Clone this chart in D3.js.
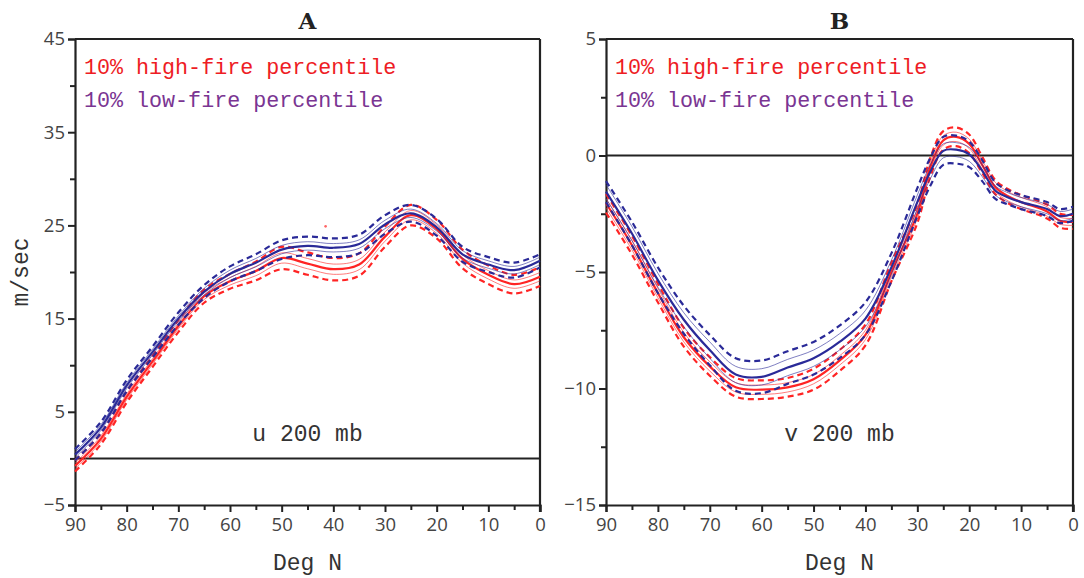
<!DOCTYPE html>
<html>
<head>
<meta charset="utf-8">
<script src="https://cdn.jsdelivr.net/npm/d3@7/dist/d3.min.js"></script>
<style>
  body { margin: 0; background: #fff; }
  .mono { font-family: "Liberation Mono", "Courier New", monospace; }
  .tick text { font-family: "Open Sans", sans-serif; font-size: 18.5px; fill: #444; }
  .axis path, .axis line { stroke: #222; }
</style>
</head>
<body>
<svg id="chart" width="1084" height="578"></svg>
<script>
// latitude ticks shared by both panels
const latMajor = [90, 80, 70, 60, 50, 40, 30, 20, 10, 0];
const latMinor = [85, 75, 65, 55, 45, 35, 25, 15, 5];

// panel A: u wind at 200 mb
const latsA = [90, 85, 80, 75, 70, 65, 60, 55, 50, 45, 40, 35, 30, 25, 20, 15, 10, 5, 0];
const uLow  = [0.4, 3.3, 7.8, 11.4, 15.0, 17.9, 19.8, 21.0, 22.4, 22.8, 22.6, 23.0, 25.1, 26.3, 24.8, 21.9, 20.8, 20.2, 21.2];
const uHigh = [-0.8, 2.1, 6.6, 10.4, 14.2, 17.4, 19.0, 20.1, 21.5, 20.9, 20.3, 20.8, 23.8, 26.1, 24.6, 21.4, 19.7, 18.7, 19.5];
const uLowInner  = [0.3, 0.3, 0.3, 0.3, 0.3, 0.35, 0.4, 0.45, 0.45, 0.45, 0.45, 0.45, 0.45, 0.45, 0.4, 0.4, 0.4, 0.4, 0.4];
const uLowOuter  = [0.6, 0.6, 0.6, 0.6, 0.65, 0.7, 0.8, 0.9, 1.0, 1.0, 1.0, 1.0, 1.0, 0.9, 0.9, 0.8, 0.8, 0.8, 0.7];
const uHighInner = [0.3, 0.3, 0.3, 0.3, 0.3, 0.35, 0.4, 0.5, 0.55, 0.55, 0.55, 0.55, 0.5, 0.5, 0.45, 0.45, 0.45, 0.45, 0.45];
const uHighOuter = [0.6, 0.6, 0.6, 0.6, 0.65, 0.7, 0.8, 1.0, 1.2, 1.2, 1.2, 1.2, 1.1, 1.1, 1.0, 1.0, 1.0, 1.0, 1.0];
const strayLat = [41.5];
const strayVal = [24.9];

// panel B: v wind at 200 mb
const latsB = [90, 85, 80, 75, 70, 65, 60, 55, 50, 45, 40, 35, 30, 27.5, 25, 22.5, 20, 17.5, 15, 12.5, 10, 5, 2.5, 0];
const vLow  = [-1.55, -3.35, -5.35, -7.05, -8.35, -9.4, -9.5, -9.1, -8.7, -8.0, -7.0, -4.8, -2.0, -0.7, 0.2, 0.25, 0.05, -0.65, -1.5, -1.8, -2.0, -2.3, -2.6, -2.5];
const vHigh = [-2.05, -3.85, -5.9, -7.8, -9.05, -9.95, -10.05, -9.95, -9.6, -8.8, -7.7, -5.0, -2.5, -0.5, 0.65, 0.8, 0.5, -0.4, -1.35, -1.75, -2.0, -2.4, -2.8, -2.85];
const vLowInner  = [0.3, 0.3, 0.3, 0.3, 0.35, 0.35, 0.35, 0.35, 0.35, 0.35, 0.35, 0.3, 0.3, 0.3, 0.3, 0.3, 0.3, 0.25, 0.2, 0.2, 0.2, 0.2, 0.2, 0.2];
const vLowOuter  = [0.45, 0.5, 0.55, 0.6, 0.65, 0.7, 0.7, 0.7, 0.7, 0.7, 0.7, 0.6, 0.6, 0.6, 0.6, 0.6, 0.55, 0.45, 0.35, 0.3, 0.3, 0.3, 0.3, 0.3];
const vHighInner = [0.2, 0.2, 0.2, 0.2, 0.2, 0.2, 0.2, 0.2, 0.2, 0.2, 0.2, 0.2, 0.2, 0.2, 0.2, 0.2, 0.2, 0.2, 0.2, 0.2, 0.2, 0.2, 0.15, 0.15];
const vHighOuter = [0.4, 0.4, 0.4, 0.4, 0.4, 0.4, 0.4, 0.4, 0.45, 0.45, 0.45, 0.4, 0.4, 0.4, 0.4, 0.4, 0.4, 0.35, 0.3, 0.3, 0.3, 0.3, 0.3, 0.3];

const RED = '#ff2424';
const BLUE = '#2a2a98';

const svg = d3.select('#chart');

function drawPanel(p) {
  const x = d3.scaleLinear().domain([90, 0]).range([p.left, p.right]);
  const y = d3.scaleLinear().domain(p.yDomain).range([p.bottom, p.top]);
  const g = svg.append('g');

  // axes
  g.append('g').attr('class', 'axis')
    .attr('transform', `translate(0,${p.bottom})`)
    .call(d3.axisBottom(x).tickValues(latMajor).tickSize(7).tickPadding(6).tickFormat(d3.format('d')))
    .call((a) => a.select('.domain').attr('stroke-width', 2.2))
    .call((a) => a.selectAll('.tick line').attr('stroke-width', 2));
  g.append('g').attr('class', 'axis')
    .attr('transform', `translate(0,${p.bottom})`)
    .call(d3.axisBottom(x).tickValues(latMinor).tickSize(5).tickFormat(''))
    .call((a) => a.select('.domain').remove())
    .call((a) => a.selectAll('.tick line').attr('stroke-width', 2));
  g.append('g').attr('class', 'axis')
    .attr('transform', `translate(${p.left},0)`)
    .call(d3.axisLeft(y).tickValues(p.yMajor).tickSize(7).tickPadding(3).tickFormat(d3.format('d')))
    .call((a) => a.select('.domain').attr('stroke-width', 2.2))
    .call((a) => a.selectAll('.tick line').attr('stroke-width', 2));
  g.append('g').attr('class', 'axis')
    .attr('transform', `translate(${p.left},0)`)
    .call(d3.axisLeft(y).tickValues(p.yMinor).tickSize(5).tickFormat(''))
    .call((a) => a.select('.domain').remove())
    .call((a) => a.selectAll('.tick line').attr('stroke-width', 2));

  // frame top/right and zero line
  g.append('line').attr('x1', p.left).attr('x2', p.right).attr('y1', p.top).attr('y2', p.top)
    .attr('stroke', '#222').attr('stroke-width', 2.2);
  g.append('line').attr('x1', p.right).attr('x2', p.right).attr('y1', p.top).attr('y2', p.bottom + 7)
    .attr('stroke', '#222').attr('stroke-width', 2.2);
  g.append('line').attr('x1', p.left).attr('x2', p.right).attr('y1', y(0)).attr('y2', y(0))
    .attr('stroke', '#222').attr('stroke-width', 2);

  const line = d3.line()
    .x((d) => x(d[0]))
    .y((d) => y(d[1]))
    .curve(d3.curveCatmullRom.alpha(0.5));

  p.groups.forEach((s) => {
    const pts = (sign, spread) => p.lats.map((lat, i) => [lat, s.mid[i] + (spread ? sign * spread[i] : 0)]);
    [-1, 1].forEach((sign) => {
      g.append('path').attr('d', line(pts(sign, s.outer))).attr('fill', 'none')
        .attr('stroke', s.color).attr('stroke-width', 2.2).attr('stroke-dasharray', '6,4');
      g.append('path').attr('d', line(pts(sign, s.inner))).attr('fill', 'none')
        .attr('stroke', s.color).attr('stroke-width', 1).attr('stroke-opacity', 0.6);
    });
    g.append('path').attr('d', line(pts(0, null))).attr('fill', 'none')
      .attr('stroke', s.color).attr('stroke-width', 2.2);
  });

  if (p.stray) {
    g.selectAll('circle.stray').data(p.stray[0]).join('circle')
      .attr('class', 'stray')
      .attr('cx', (d) => x(d)).attr('cy', (d, i) => y(p.stray[1][i]))
      .attr('r', 1.3).attr('fill', RED).attr('fill-opacity', 0.7);
  }

  const cx = (p.left + p.right) / 2;
  g.append('text').attr('x', cx).attr('y', 29).attr('text-anchor', 'middle')
    .attr('font-family', '"DejaVu Serif", serif').attr('font-weight', 'bold')
    .attr('font-size', 23).attr('fill', '#222').text(p.title);
  g.append('text').attr('class', 'mono').attr('x', cx).attr('y', 570).attr('text-anchor', 'middle')
    .attr('font-size', 23).attr('fill', '#333')
    .text('Deg N');
  g.append('text').attr('class', 'mono').attr('x', cx).attr('y', 441).attr('text-anchor', 'middle')
    .attr('font-size', 23).attr('fill', '#333')
    .text(p.label);
  g.append('text').attr('class', 'mono').attr('x', p.left + 9).attr('y', 74)
    .attr('font-size', 21.7).attr('fill', '#ee1c24')
    .text('10% high-fire percentile');
  g.append('text').attr('class', 'mono').attr('x', p.left + 9).attr('y', 107)
    .attr('font-size', 21.7).attr('fill', '#7a3592')
    .text('10% low-fire percentile');
}

drawPanel({
  title: 'A', label: 'u 200 mb',
  left: 75, right: 540, top: 39, bottom: 505,
  yDomain: [-5, 45], yMajor: [-5, 5, 15, 25, 35, 45], yMinor: [0, 10, 20, 30, 40],
  lats: latsA,
  groups: [
    { color: RED, mid: uHigh, inner: uHighInner, outer: uHighOuter },
    { color: BLUE, mid: uLow, inner: uLowInner, outer: uLowOuter }
  ],
  stray: [strayLat, strayVal]
});

drawPanel({
  title: 'B', label: 'v 200 mb',
  left: 606, right: 1073, top: 39, bottom: 505,
  yDomain: [-15, 5], yMajor: [-15, -10, -5, 0, 5], yMinor: [-12.5, -7.5, -2.5, 2.5],
  lats: latsB,
  groups: [
    { color: RED, mid: vHigh, inner: vHighInner, outer: vHighOuter },
    { color: BLUE, mid: vLow, inner: vLowInner, outer: vLowOuter }
  ]
});

svg.append('text').attr('class', 'mono')
  .attr('transform', 'translate(28,272) rotate(-90)')
  .attr('text-anchor', 'middle')
  .attr('font-size', 23).attr('fill', '#333')
  .text('m/sec');
</script>
</body>
</html>
